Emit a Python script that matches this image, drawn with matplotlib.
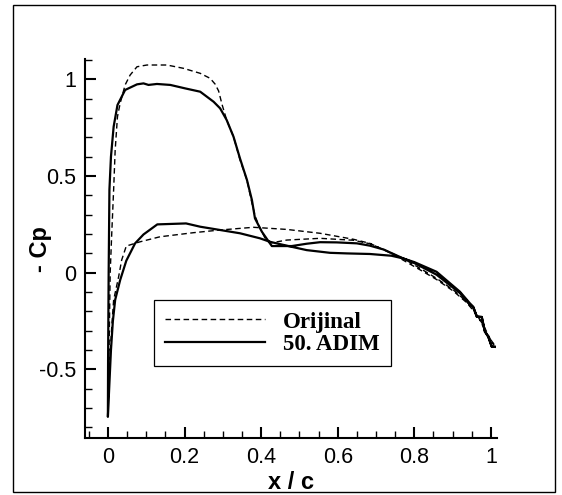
import matplotlib
matplotlib.use("Agg")
import matplotlib.pyplot as plt
from matplotlib.ticker import MultipleLocator, FuncFormatter
from matplotlib.patches import Rectangle

# --- Cp distributions (TE -> LE over upper, LE -> TE over lower) ---
x_orig = [1.008, 0.99, 0.97, 0.955, 0.937, 0.902, 0.858, 0.815, 0.771, 0.72, 0.684,
          0.641, 0.597, 0.554, 0.467, 0.428, 0.41, 0.395, 0.385, 0.376, 0.363, 0.345,
          0.328, 0.31, 0.298, 0.289, 0.28, 0.267, 0.241, 0.197, 0.154, 0.102, 0.076,
          0.058, 0.045, 0.032, 0.025, 0.019, 0.015, 0.01, 0.006, 0.003, 0.0,
          0.005, 0.01, 0.015, 0.028, 0.036, 0.048, 0.084, 0.136, 0.223, 0.293, 0.38,
          0.467, 0.554, 0.641, 0.684, 0.74, 0.771, 0.815, 0.858, 0.902, 0.937, 0.96,
          0.98, 1.0, 1.008]
cp_orig = [-0.37, -0.32, -0.24, -0.19, -0.15, -0.089, -0.029, 0.023, 0.074, 0.12, 0.15,
           0.168, 0.173, 0.178, 0.169, 0.155, 0.18, 0.24, 0.29, 0.36, 0.479, 0.583,
           0.703, 0.79, 0.87, 0.94, 0.975, 1.005, 1.031, 1.057, 1.074, 1.074, 1.065,
           1.022, 0.971, 0.876, 0.807, 0.634, 0.43, 0.2, 0.0, -0.4, -0.70,
           -0.45, -0.28, -0.141, -0.021, 0.066, 0.138, 0.16, 0.186, 0.207, 0.221, 0.235,
           0.224, 0.204, 0.173, 0.152, 0.10, 0.065, 0.015, -0.035, -0.095, -0.155, -0.21,
           -0.27, -0.35, -0.375]

x_adim = [1.01, 1.002, 0.993, 0.984, 0.976, 0.963, 0.954, 0.945, 0.919, 0.858, 0.80,
          0.771, 0.72, 0.684, 0.65, 0.597, 0.554, 0.519, 0.48, 0.428, 0.423, 0.402,
          0.384, 0.376, 0.363, 0.345, 0.328, 0.31, 0.293, 0.276, 0.241, 0.202,
          0.163, 0.128, 0.106, 0.093, 0.076, 0.045, 0.025, 0.015, 0.008, 0.004, 0.002,
          0.0005, 0.0,
          0.004, 0.008, 0.013, 0.019, 0.032, 0.048, 0.071, 0.093, 0.129, 0.204, 0.241,
          0.293, 0.345, 0.397, 0.423, 0.48, 0.519, 0.58, 0.624, 0.684, 0.74, 0.771,
          0.80, 0.858, 0.919, 0.945, 0.954, 0.963, 0.976, 0.984, 0.993, 1.002, 1.01]
cp_adim = [-0.383, -0.383, -0.331, -0.305, -0.228, -0.228, -0.176, -0.158, -0.098, 0.005, 0.055,
           0.074, 0.12, 0.14, 0.152, 0.157, 0.158, 0.15, 0.138, 0.138, 0.152, 0.212,
           0.281, 0.376, 0.48, 0.59, 0.703, 0.79, 0.85, 0.884, 0.936, 0.953,
           0.971, 0.976, 0.971, 0.979, 0.974, 0.945, 0.867, 0.755, 0.60, 0.43, 0.0,
           -0.45, -0.745,
           -0.57, -0.40, -0.25, -0.14, -0.038, 0.062, 0.152, 0.198, 0.25, 0.255, 0.238,
           0.221, 0.204, 0.178, 0.16, 0.134, 0.117, 0.103, 0.1, 0.097, 0.088, 0.074,
           0.05, -0.01, -0.105, -0.165, -0.18, -0.225, -0.23, -0.30, -0.33, -0.38, -0.383]

x_ticks = [0, 0.2, 0.4, 0.6, 0.8, 1.0]
y_ticks = [-0.5, 0, 0.5, 1.0]

plt.rcParams['font.family'] = ['Liberation Sans', 'DejaVu Sans']
plt.rcParams['axes.unicode_minus'] = False

fig = plt.figure(figsize=(5.62, 4.95), dpi=100)
ax = fig.add_axes([0.1504, 0.1145, 0.7334, 0.7655])

ax.plot(x_orig, cp_orig, color='black', lw=1.0, ls=(0, (4, 2.5)), label='Orijinal')
ax.plot(x_adim, cp_adim, color='black', lw=1.6, label='50. ADIM')

ax.set_xlim(-0.061, 1.015)
ax.set_ylim(-0.856, 1.103)

# Tecplot-like axes: only left/bottom, inward ticks
for side in ['top', 'right']:
    ax.spines[side].set_visible(False)
for side in ['left', 'bottom']:
    ax.spines[side].set_linewidth(1.5)

ax.set_xticks(x_ticks)
ax.set_yticks(y_ticks)
ax.xaxis.set_minor_locator(MultipleLocator(0.05))
ax.yaxis.set_minor_locator(MultipleLocator(0.1))
fmt = FuncFormatter(lambda v, p: '%g' % v)
ax.xaxis.set_major_formatter(fmt)
ax.yaxis.set_major_formatter(fmt)
ax.tick_params(which='major', direction='in', length=8, width=1.5, labelsize=15.5, pad=6)
ax.tick_params(which='minor', direction='in', length=4.8, width=1.0)
ax.tick_params(top=False, right=False, which='both')

ax.set_xlabel('x / c', fontsize=17, fontweight='bold')
ax.set_ylabel('- Cp', fontsize=17, fontweight='bold')
ax.xaxis.set_label_coords(0.5, -0.085)
ax.yaxis.set_label_coords(-0.079, 0.5)

leg = ax.legend(loc='upper left', bbox_to_anchor=(0.1686, 0.365), borderaxespad=0,
                fancybox=False, framealpha=1, edgecolor='black',
                handlelength=4.33, handletextpad=0.8, borderpad=0.5, labelspacing=0.05,
                prop={'family': 'Liberation Serif', 'weight': 'bold', 'size': 16.5})
leg.get_frame().set_linewidth(0.9)

# outer frame around the whole picture
fig.patches.append(Rectangle((0.023, 0.006), 0.9645, 0.984, transform=fig.transFigure,
                             fill=False, edgecolor='black', lw=1.0))

fig.savefig('out.png', dpi=100)
